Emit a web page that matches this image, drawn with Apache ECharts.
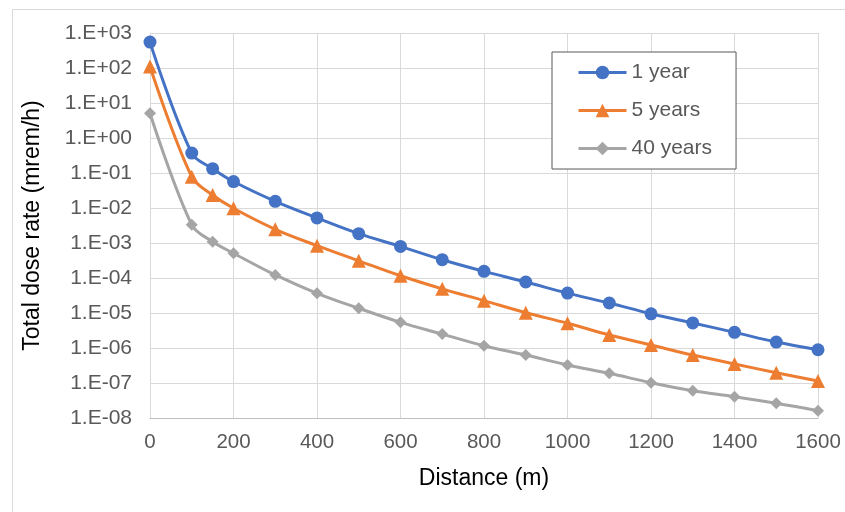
<!DOCTYPE html>
<html>
<head>
<meta charset="utf-8">
<script src="https://cdn.jsdelivr.net/npm/echarts@6/dist/echarts.min.js"></script>
<style>
html,body{margin:0;padding:0;background:#fff;}
#chart{width:845px;height:512px;}
</style>
</head>
<body>
<div id="chart"></div>
<script>
const distances = [0,100,150,200,300,400,500,600,700,800,900,1000,1100,1200,1300,1400,1500,1600];
const year1 = [550, 0.37, 0.133, 0.057, 0.0155, 0.0052, 0.00185, 8.0e-4, 3.33e-4, 1.55e-4, 7.7e-5, 3.7e-5, 1.93e-5, 9.5e-6, 5.2e-6, 2.8e-6, 1.48e-6, 8.9e-7];
const year5 = [110, 0.078, 0.0235, 0.0098, 0.00246, 8.4e-4, 3.1e-4, 1.16e-4, 4.9e-5, 2.25e-5, 1.02e-5, 5.1e-6, 2.35e-6, 1.22e-6, 6.3e-7, 3.5e-7, 1.97e-7, 1.14e-7];
const year40 = [5.1, 3.3e-3, 1.09e-3, 5.1e-4, 1.22e-4, 3.66e-5, 1.36e-5, 5.4e-6, 2.5e-6, 1.16e-6, 6.3e-7, 3.27e-7, 1.89e-7, 1.02e-7, 6.0e-8, 4.06e-8, 2.63e-8, 1.62e-8];
const seriesNames = ['1 year', '5 years', '40 years'];
const colors = ['#4472C4', '#ED7D31', '#A5A5A5'];
const xTitle = 'Distance (m)';
const yTitle = 'Total dose rate (mrem/h)';

const pairs = arr => distances.map((d, i) => [d, arr[i]]);
const fmtY = v => {
  const e = Math.round(Math.log10(v));
  const a = Math.abs(e);
  return '1.E' + (e < 0 ? '-' : '+') + (a < 10 ? '0' + a : '' + a);
};
const font = 'Liberation Sans, Arial, sans-serif';

const chart = echarts.init(document.getElementById('chart'), null, {renderer: 'canvas'});
const mk = (name, data, color, symbol, size) => ({
  name, type: 'line', data: pairs(data), smooth: 0.35,
  symbol, symbolSize: size,
  lineStyle: {color, width: 3},
  itemStyle: {color},
  emphasis: {disabled: true}
});
chart.setOption({
  animation: false,
  backgroundColor: '#fff',
  graphic: [{
    type: 'rect', left: 10, top: 7,
    shape: {width: 900, height: 600},
    style: {fill: 'none', stroke: '#D9D9D9', lineWidth: 1},
    silent: true, z: -10
  }],
  grid: {left: 150, right: 27, top: 33, bottom: 94},
  legend: {
    orient: 'vertical', left: 552, top: 52,
    data: seriesNames,
    itemWidth: 48, itemHeight: 17, itemGap: 17,
    padding: [10, 24, 10, 25],
    borderColor: '#595959', borderWidth: 1,
    backgroundColor: '#fff',
    lineStyle: {width: 3},
    textStyle: {fontFamily: font, fontSize: 21, color: '#595959', lineHeight: 21}
  },
  xAxis: {
    type: 'value', min: 0, max: 1600, interval: 200,
    name: xTitle, nameLocation: 'middle', nameGap: 49,
    nameTextStyle: {fontFamily: font, fontSize: 23, color: '#000'},
    axisLine: {show: true, lineStyle: {color: '#BFBFBF', width: 1}},
    axisTick: {show: false},
    axisLabel: {fontFamily: font, fontSize: 20.5, color: '#595959', margin: 14, formatter: v => String(v)},
    splitLine: {show: true, lineStyle: {color: '#D9D9D9', width: 1}}
  },
  yAxis: {
    type: 'log', logBase: 10, min: 1e-8, max: 1e3, interval: 1,
    name: yTitle, nameLocation: 'middle', nameGap: 106, nameRotate: 90,
    nameTextStyle: {fontFamily: font, fontSize: 23, color: '#000'},
    axisLine: {show: true, lineStyle: {color: '#D9D9D9', width: 1}},
    axisTick: {show: false},
    minorTick: {show: false},
    axisLabel: {fontFamily: font, fontSize: 21, color: '#595959', margin: 18, formatter: fmtY},
    splitLine: {show: true, lineStyle: {color: '#D9D9D9', width: 1}}
  },
  series: [
    mk(seriesNames[0], year1, colors[0], 'circle', 13),
    mk(seriesNames[1], year5, colors[1], 'triangle', 14),
    mk(seriesNames[2], year40, colors[2], 'diamond', 12)
  ]
});
</script>
</body>
</html>
